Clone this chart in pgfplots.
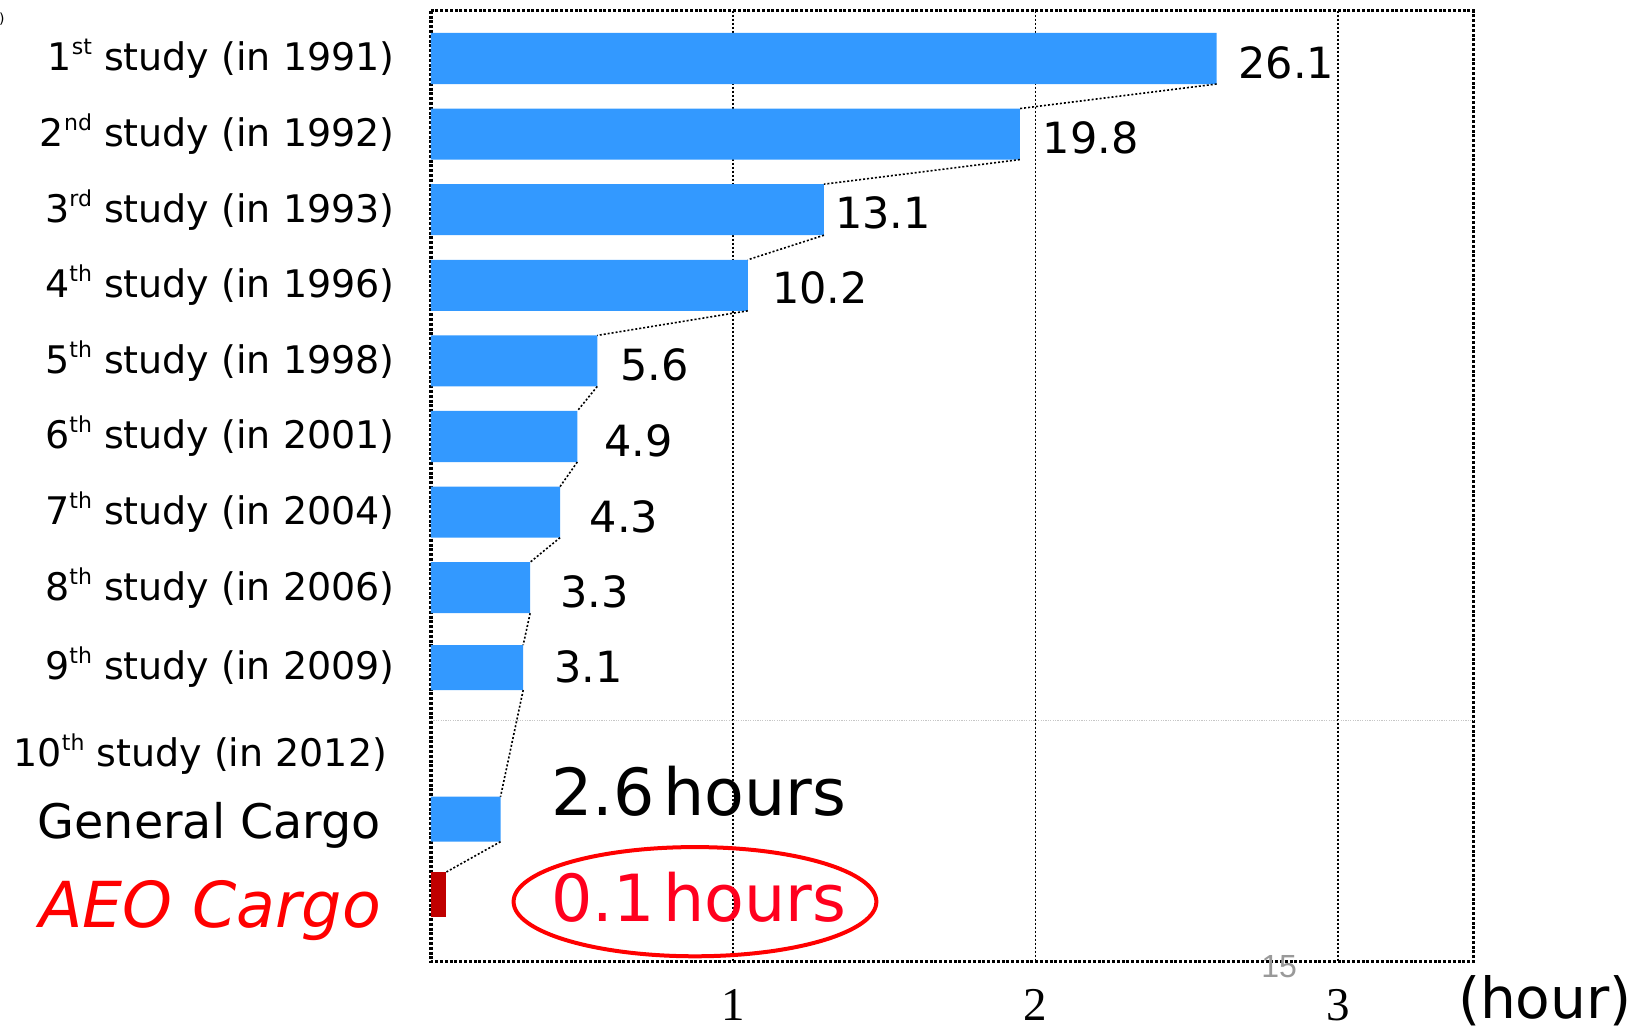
\documentclass[border=0pt]{standalone}
\usepackage{pgfplots}
\pgfplotsset{compat=1.18}
\usepackage{fontspec}
\setmainfont{DejaVu Sans}[ItalicFont={DejaVu Sans Oblique}]
\newfontfamily\timesf{Liberation Serif}
\newfontfamily\arialf{Liberation Sans}
\definecolor{barblue}{RGB}{51,153,255}
\definecolor{aeored}{RGB}{192,0,0}
\definecolor{txtred}{RGB}{255,0,30}
\newcommand\fs[1]{\fontsize{#1}{#1}\selectfont}
\newcommand\sups[1]{\raisebox{0.42em}{\fontsize{11}{11}\selectfont #1}}

\begin{document}
\begin{tikzpicture}
\begin{axis}[
  at={(0pt,0pt)}, anchor=south west,
  scale only axis, width=521.15pt, height=475.5pt,
  xmin=0, xmax=3.448, ymin=0.368, ymax=12.947, y dir=reverse,
  xtick={1,2,3}, xticklabels={1,2,3},
  xticklabel style={font=\timesf\fs{23.5}, inner sep=0pt, anchor=north, yshift=-13.5pt},
  ytick={1,2,3,4,5,6,7,8,9.056,10.204,11.139,12.275},
  yticklabels={{1\sups{st} study (in 1991)},{2\sups{nd} study (in 1992)},{3\sups{rd} study (in 1993)},{4\sups{th} study (in 1996)},{5\sups{th} study (in 1998)},{6\sups{th} study (in 2001)},{7\sups{th} study (in 2004)},{8\sups{th} study (in 2006)},{9\sups{th} study (in 2009)},{10\sups{th} study (in 2012)\kern3.7pt},{\fs{23.8}General Cargo\kern6.8pt},{\fs{31.7}\color{red}\itshape AEO Cargo\kern6.8pt}},
  yticklabel style={font=\fs{19}, anchor=east, inner sep=0pt, xshift=-18pt},
  major tick length=0pt,
  xmajorgrids,
  major grid style={black, line width=0.8pt, dash pattern=on 1pt off 1pt},
  extra y ticks={9.75}, extra y tick labels={},
  extra y tick style={grid=major, major grid style={black!22, line width=0.5pt, dash pattern=on 0.6pt off 0.6pt}},
  axis line style={black, line width=1.6pt, dash pattern=on 1.5pt off 0.9pt},
  clip=false,
]
% bars (axis units as drawn)
\addplot[xbar, bar shift=0pt, bar width=0.675, fill=barblue, draw=none] table {
x y
2.599 1
1.948 2
1.300 3
1.048 4
0.550 5
0.484 6
0.427 7
0.328 8
};
\addplot[xbar, bar shift=0pt, bar width=0.595, fill=barblue, draw=none] table {
x y
0.305 9.056
0.230 11.062
};
\addplot[xbar, bar shift=0pt, bar width=0.595, fill=aeored, draw=none] table {
x y
0.049 12.062
};
% series lines
\addplot[black, line width=0.8pt, dash pattern=on 1pt off 1pt, unbounded coords=jump, mark=none] coordinates {
(2.599,1.3375) (1.948,1.6625) (nan,nan)
(1.948,2.3375) (1.300,2.6625) (nan,nan)
(1.300,3.3375) (1.048,3.6625) (nan,nan)
(1.048,4.3375) (0.550,4.6625) (nan,nan)
(0.550,5.3375) (0.484,5.6625) (nan,nan)
(0.484,6.3375) (0.427,6.6625) (nan,nan)
(0.427,7.3375) (0.328,7.6625) (nan,nan)
(0.328,8.3375) (0.305,8.7585) (nan,nan)
(0.305,9.3535) (0.230,10.7645) (nan,nan)
(0.230,11.3595) (0.049,11.7645)
};
% value labels
\addplot[draw=none, mark=none, nodes near coords, point meta=explicit symbolic,
  nodes near coords style={anchor=west, inner sep=0pt, font=\fs{21.5}, text=black}]
  table[meta=lab] {
x y lab
2.670 1.053 26.1
2.023 2.050 19.8
1.336 3.044 13.1
1.127 4.040 10.2
0.625 5.048 5.6
0.573 6.057 4.9
0.524 7.060 4.3
0.426 8.053 3.3
0.407 9.045 3.1
};
\node[anchor=base west, inner sep=0pt, font=\fs{32.5}] at (axis cs:0.397,11.016) {2.6\kern4.2pt hours};
\node[anchor=base west, inner sep=0pt, font=\fs{32.5}, text=txtred] at (axis cs:0.397,12.418) {0.1\kern4.2pt hours};
\draw[red, line width=2pt] (axis cs:0.8733,12.153) ellipse [x radius=90.7pt, y radius=27.3pt];
\end{axis}
\node[anchor=north west, inner sep=0pt, font=\fs{28.3}] at (513.3pt,-6.65pt) {(hour)};
\node[anchor=north west, inner sep=0pt, font=\arialf\fs{16}, text=black!40] at (415pt,3.35pt) {15};
\node[anchor=north east, inner sep=0pt, font=\fs{7}] at (-213pt,474.85pt) {)};
\pgfresetboundingbox
\path[use as bounding box] (-215.5pt,-31.65pt) rectangle (604.5pt,480.85pt);
\end{tikzpicture}
\end{document}
